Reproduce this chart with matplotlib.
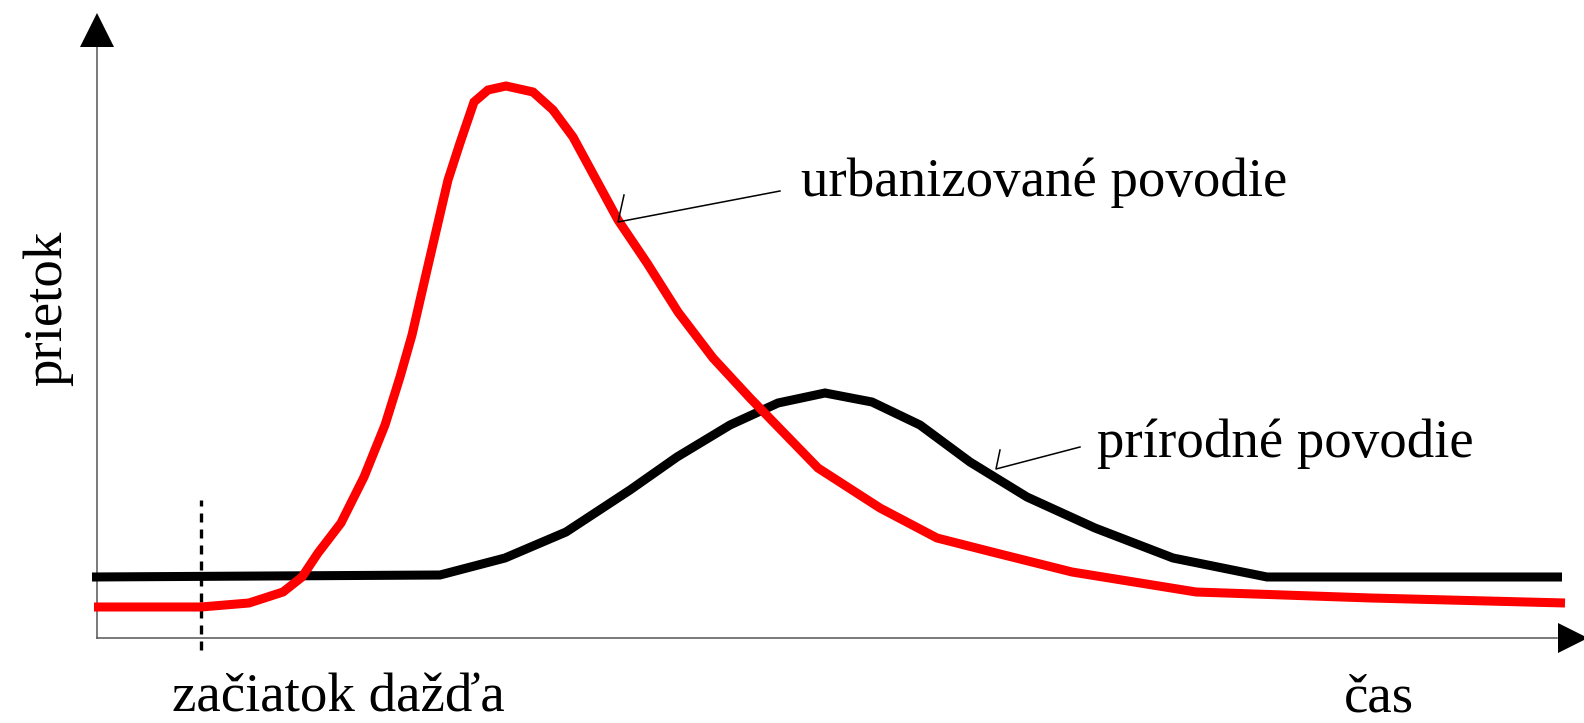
import matplotlib
matplotlib.use("Agg")
import matplotlib.pyplot as plt

# hydrographs (time, flow in picture units, origin at axes corner)
natural_t = [-5, 343, 408, 469, 533, 580, 633, 681, 728, 775, 823, 873, 930, 998, 1076, 1170, 1465]
natural_q = [61, 63, 80, 106, 148, 181, 213, 235, 245, 236, 213, 176, 141, 110, 80, 61, 61]

urban_t = [-3, 104, 152, 186, 205, 221, 244, 267, 288, 303, 315, 330, 351, 363, 377, 391, 409,
           436, 456, 476, 521, 550, 581, 616, 653, 721, 783, 840, 899, 975, 1099, 1274, 1468]
urban_q = [31, 31, 35, 46, 61, 85, 115, 161, 213, 261, 303, 368, 458, 495, 536, 548, 552,
           546, 528, 501, 418, 375, 326, 280, 240, 170, 130, 100, 85, 66, 46, 40, 35]

rain_start = 104
rain_q = [-12, 138]

urban_label = "urbanizované povodie"
natural_label = "prírodné povodie"
# label anchor, leader start, leader end, hook end
urban_ann = [(704, 442), (683, 447), (521, 416), (527, 443)]
natural_ann = [(1000, 181), (983, 191), (899, 169), (903, 188)]

x_max, y_max = 1460, 591

plt.rcParams["font.family"] = ["Liberation Serif", "DejaVu Serif"]

fig = plt.figure(figsize=(15.84, 7.23), dpi=100)
ax = fig.add_axes([0, 0, 1, 1])
ax.set_xlim(-97, 1487)
ax.set_ylim(-85, 638)
ax.axis("off")

# axes with arrow heads
axis_col = "#555555"
ax.plot([0, 0], [0, y_max], color=axis_col, lw=1.1)
ax.plot([0, x_max], [0, 0], color=axis_col, lw=1.1)
ax.plot(0, 608, marker="^", ms=25, color="black", mew=0)
ax.plot(1476, 0, marker=">", ms=22, color="black", mew=0, clip_on=False)

# rain start
ax.plot([rain_start, rain_start], rain_q, color="black", lw=2.4, ls=(0, (2.7, 2.1)))

ax.plot(natural_t, natural_q, color="black", lw=6.5, solid_capstyle="butt", solid_joinstyle="miter")
ax.plot(urban_t, urban_q, color="#ff0000", lw=6.5, solid_capstyle="butt", solid_joinstyle="miter")

fs = 39.5
for label, ann in [(urban_label, urban_ann), (natural_label, natural_ann)]:
    txt, start, end, hook = ann
    ax.plot([start[0], end[0], hook[0]], [start[1], end[1], hook[1]], color="black", lw=1.1)
    ax.text(txt[0], txt[1], label, fontsize=fs, ha="left", va="baseline")

ax.text(75, -74, "začiatok dažďa", fontsize=fs, ha="left", va="baseline")
ax.text(1247, -74, "čas", fontsize=fs, ha="left", va="baseline")
ax.text(-49, 330, "prietok", fontsize=fs, rotation=90, ha="center", va="center")

fig.savefig("out.png", dpi=100)
